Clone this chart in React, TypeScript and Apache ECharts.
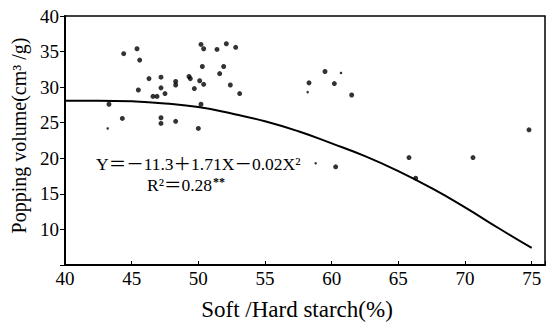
import React, { useEffect, useRef } from 'react';
import * as echarts from 'echarts';

// Observed data points (x: soft/hard starch %, y: popping volume cm3/g)
const pointsX = [
  44.4, 45.4, 45.6, 46.3, 47.2, 48.3, 48.3, 45.5, 47.2, 47.5, 46.6, 46.9, 43.3, 44.3, 47.2, 47.2, 48.3,
  50.2, 50.4, 51.4, 52.1, 52.8, 50.3, 51.9, 51.6, 49.3, 49.4, 50.1, 50.4, 52.4, 49.7, 53.1, 50.2, 50.0,
  59.5, 58.3, 60.2, 61.5, 60.3, 65.8, 70.6, 74.8, 66.3,
];
const pointsY = [
  34.7, 35.4, 33.8, 31.2, 31.4, 30.8, 30.3, 29.6, 29.9, 29.1, 28.7, 28.7, 27.6, 25.6, 25.7, 24.9, 25.2,
  36.0, 35.4, 35.3, 36.1, 35.6, 32.9, 32.9, 31.9, 31.5, 31.2, 30.9, 30.4, 30.3, 29.8, 29.1, 27.6, 24.2,
  32.2, 30.6, 30.5, 28.9, 18.8, 20.1, 20.1, 24.0, 17.2,
];
// faint small specks
const minorX = [43.2, 58.2, 58.8, 60.7];
const minorY = [24.2, 29.3, 19.3, 32.0];

// Fitted curve
const curveX = [40, 42.5, 45, 47.5, 50, 52.5, 55, 57.5, 60, 62.5, 65, 67.5, 70, 72.5, 75];
const curveY = [28.1, 28.1, 28.0, 27.7, 27.2, 26.3, 25.2, 23.8, 22.1, 20.3, 18.2, 15.8, 13.1, 10.2, 7.4];

const xTitle = 'Soft /Hard starch(%)';
const yTitle = 'Popping volume(cm³ /g)';
const equation = 'Y＝－11.3＋1.71X－0.02X²';
const rSquared = 'R²＝0.28';
const significance = '**';

const SERIF = '"Liberation Serif", "Times New Roman", "Noto Sans CJK SC", serif';

export default function App() {
  const ref = useRef<HTMLDivElement>(null);

  useEffect(() => {
    if (!ref.current) return;
    const chart = echarts.init(ref.current, undefined, { renderer: 'svg' });
    const option: any = {
      animation: false,
      backgroundColor: '#fff',
      grid: {
        left: 65,
        right: 12,
        top: 16,
        bottom: 59,
        show: true,
        borderColor: '#000',
        borderWidth: 1.5,
        backgroundColor: 'transparent',
      },
      xAxis: {
        type: 'value',
        min: 40,
        max: 76,
        interval: 5,
        splitLine: { show: false },
        axisLine: { show: true, lineStyle: { color: '#000', width: 2 } },
        axisTick: { show: true, inside: true, length: 4, lineStyle: { color: '#000', width: 1 } },
        axisLabel: {
          color: '#000',
          fontSize: 19,
          fontFamily: SERIF,
          margin: 4,
          formatter: (v: number) => (v % 5 === 0 ? String(v) : ''),
        },
        name: xTitle,
        nameLocation: 'middle',
        nameGap: 33,
        nameTextStyle: { color: '#000', fontSize: 23, fontFamily: SERIF, padding: [0, 16, 0, 0] },
      },
      yAxis: {
        type: 'value',
        min: 5,
        max: 40,
        interval: 5,
        splitLine: { show: false },
        axisLine: { show: true, lineStyle: { color: '#000', width: 2 } },
        axisTick: { show: true, inside: false, length: 5, lineStyle: { color: '#000', width: 1 } },
        axisLabel: {
          color: '#000',
          fontSize: 19,
          fontFamily: SERIF,
          margin: 6,
          formatter: (v: number) => (v >= 10 && v % 5 === 0 ? String(v) : ''),
        },
        name: yTitle,
        nameLocation: 'middle',
        nameGap: 28,
        nameTextStyle: { color: '#000', fontSize: 20, fontFamily: SERIF, padding: [0, 0, 0, 10] },
      },
      series: [
        {
          type: 'line',
          data: curveX.map((x, i) => [x, curveY[i]]),
          smooth: true,
          showSymbol: false,
          symbol: 'none',
          lineStyle: { color: '#000', width: 2 },
          z: 2,
        },
        {
          type: 'scatter',
          data: pointsX.map((x, i) => [x, pointsY[i]]),
          symbol: 'circle',
          symbolSize: 5,
          itemStyle: { color: '#000' },
          z: 3,
        },
        {
          type: 'scatter',
          data: minorX.map((x, i) => [x, minorY[i]]),
          symbol: 'circle',
          symbolSize: 2.5,
          itemStyle: { color: '#000' },
          z: 3,
        },
      ],
      graphic: [
        {
          type: 'text',
          left: 96,
          top: 155,
          style: { text: equation, fill: '#000', fontSize: 17.5, fontFamily: SERIF },
        },
        {
          type: 'text',
          left: 147,
          top: 176,
          style: {
            text: `{a|${rSquared}}{b|${significance}}`,
            fill: '#000',
            fontFamily: SERIF,
            rich: {
              a: { fill: '#000', color: '#000', fontSize: 17.5, fontFamily: SERIF },
              b: {
                fill: '#000',
                color: '#000',
                fontSize: 12,
                fontWeight: 'bold',
                fontFamily: SERIF,
                verticalAlign: 'top',
                padding: [0, 0, 6, 1],
              },
            },
          },
        },
      ],
    };
    chart.setOption(option);
    return () => chart.dispose();
  }, []);

  return (
    <div
      ref={ref}
      style={{ position: 'absolute', left: 0, top: 0, width: 557, height: 326, background: '#fff' }}
    />
  );
}
